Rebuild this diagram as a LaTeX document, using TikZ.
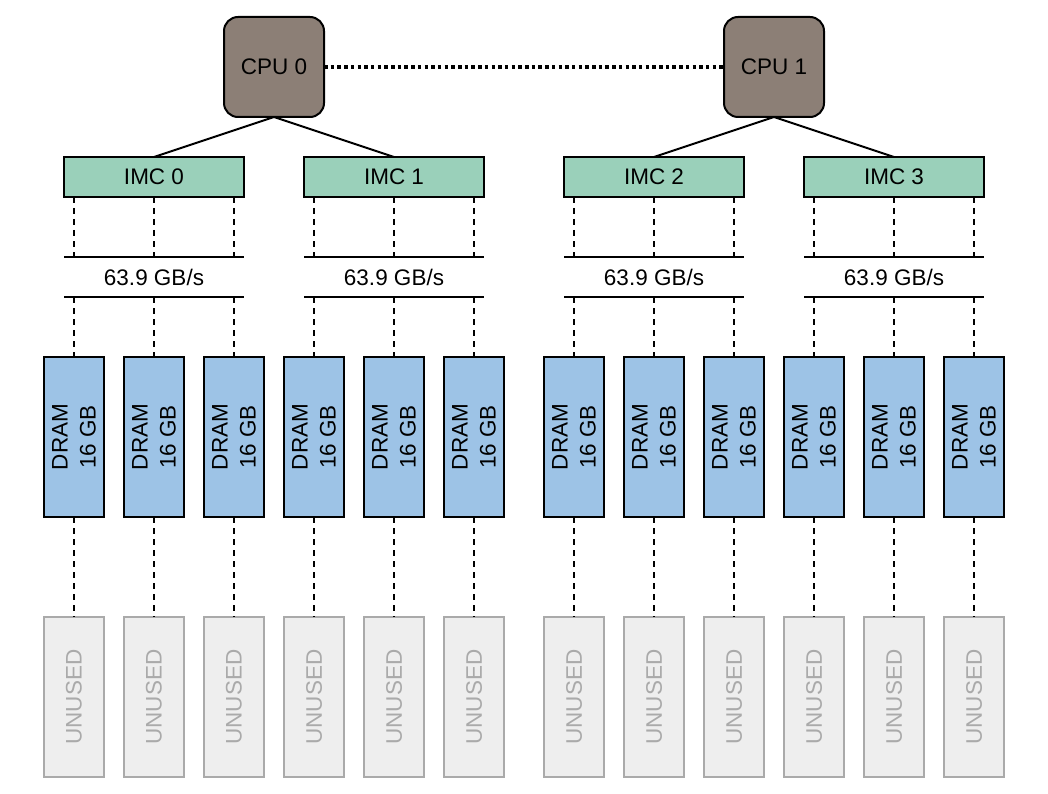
\documentclass[tikz,border=0pt]{standalone}
\usepackage{fontspec}
\setmainfont{Liberation Sans}
\definecolor{cpufill}{RGB}{140,127,118}
\definecolor{imcfill}{RGB}{154,208,186}
\definecolor{dramfill}{RGB}{157,195,230}
\definecolor{unfill}{RGB}{238,238,238}
\definecolor{ungray}{RGB}{170,170,170}
\begin{document}
\begin{tikzpicture}[x=1pt,y=-1pt,
  every node/.style={font=\fontsize{22.5}{28}\selectfont, inner sep=0pt, outer sep=0pt},
  cpubox/.style={draw=black, line width=2pt, fill=cpufill, rounded corners=14pt, minimum width=100pt, minimum height=100pt},
  imcbox/.style={draw=black, line width=2pt, fill=imcfill, minimum width=180pt, minimum height=40pt},
  bwbox/.style={minimum width=180pt, minimum height=40pt},
  drambox/.style={draw=black, line width=2pt, fill=dramfill, minimum width=60pt, minimum height=160pt},
  unbox/.style={draw=ungray, line width=2pt, fill=unfill, text=ungray, minimum width=60pt, minimum height=160pt},
  rot/.style={rotate=90},
  link/.style={line width=2pt},
  dashlink/.style={line width=2pt, dash pattern=on 6pt off 5pt},
  qpi/.style={line width=3.5pt, dash pattern=on 3.5pt off 3.2pt},
  bwline/.style={line width=2pt}
]
\useasboundingbox (0,0) rectangle (1048,794);

\node[cpubox] (cpu0) at (274,67) {CPU 0};
\node[cpubox] (cpu1) at (774,67) {CPU 1};
\draw[qpi] (cpu0.east) -- (cpu1.west);

\foreach \i/\x in {0/154,1/394,2/654,3/894}{
  \node[imcbox] (imc\i) at (\x,177) {IMC \i};
  \node[bwbox] (bw\i) at (\x,277) {63.9 GB/s};
  \draw[bwline] (bw\i.north west) -- (bw\i.north east);
  \draw[bwline] (bw\i.south west) -- (bw\i.south east);
}
\draw[link] (cpu0.south) -- (imc0.north);
\draw[link] (cpu0.south) -- (imc1.north);
\draw[link] (cpu1.south) -- (imc2.north);
\draw[link] (cpu1.south) -- (imc3.north);

\foreach \k/\x/\m in {0/74/0,1/154/0,2/234/0,3/314/1,4/394/1,5/474/1,6/574/2,7/654/2,8/734/2,9/814/3,10/894/3,11/974/3}{
  \node[drambox] (dram\k) at (\x,437) {};
  \node[rot, align=center] at (dram\k.center) {DRAM\\16 GB};
  \node[unbox] (un\k) at (\x,697) {};
  \node[rot, text=ungray] at (un\k.center) {UNUSED};
  \draw[dashlink] (imc\m.south -| dram\k.north) -- (bw\m.north -| dram\k.north);
  \draw[dashlink] (bw\m.south -| dram\k.north) -- (dram\k.north);
  \draw[dashlink] (dram\k.south) -- (un\k.north);
}
\end{tikzpicture}
\end{document}
